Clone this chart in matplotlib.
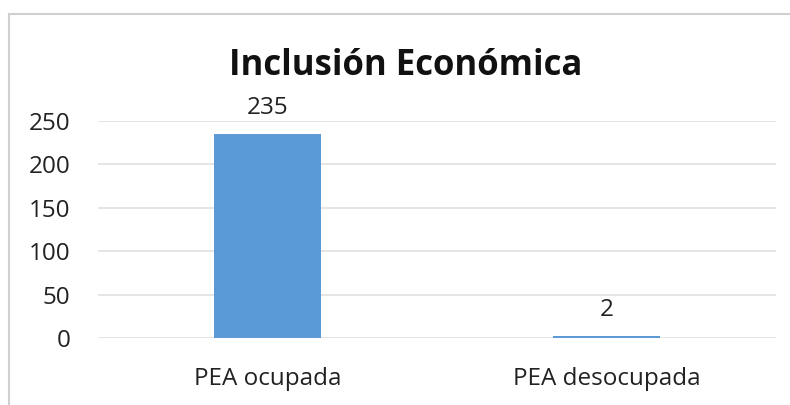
import matplotlib.pyplot as plt
from matplotlib.lines import Line2D

categorias = ['PEA ocupada', 'PEA desocupada']
valores = [235, 2]
ticks_y = [0, 50, 100, 150, 200, 250]

plt.rcParams['font.family'] = ['Open Sans', 'DejaVu Sans']

fig = plt.figure(figsize=(7.9, 4.05), dpi=100)
ax = fig.add_axes([0.124, 0.1654, 0.858, 0.5358])

x = range(len(categorias))
barras = ax.bar(x, valores, width=0.315, color='#5b9bd5', zorder=3)
ax.set_xlim(-0.5, 1.5)
ax.set_ylim(0, 250)
ax.set_yticks(ticks_y)
ax.set_xticks(list(x))
ax.set_xticklabels(categorias, fontsize=17.5, color='#222222')
ax.tick_params(axis='y', length=0, pad=20, labelsize=17.5, labelcolor='#222222')
ax.tick_params(axis='x', length=0, pad=21)
ax.grid(axis='y', color='#e0e0e0', linewidth=1.2, zorder=0)
for s in ax.spines.values():
    s.set_visible(False)

for b, v in zip(barras, valores):
    ax.annotate(str(v), (b.get_x() + b.get_width() / 2, v), xytext=(0, 10),
                textcoords='offset points', ha='center', va='bottom',
                fontsize=17.5, color='#222222')

fig.text(0.513, 0.838, 'Inclusión Económica', ha='center', va='center',
         fontsize=25, fontweight='bold', color='#111111')

# marco del gráfico
fig.add_artist(Line2D([9 / 790, 9 / 790], [0, 1 - 14 / 405], transform=fig.transFigure,
                      color='#d0d0d0', linewidth=1.5))
fig.add_artist(Line2D([9 / 790, 1], [1 - 14 / 405, 1 - 14 / 405], transform=fig.transFigure,
                      color='#d0d0d0', linewidth=1.5))

fig.savefig('out.png', dpi=100)
